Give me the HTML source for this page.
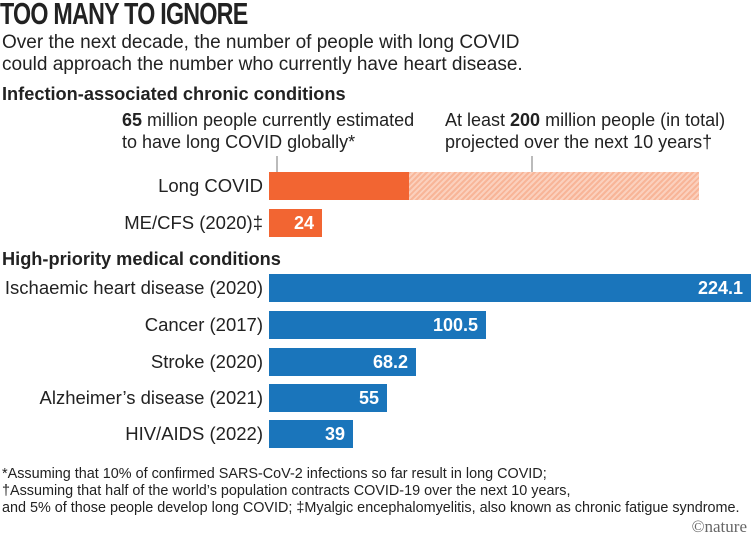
<!DOCTYPE html>
<html><head><meta charset="utf-8"><style>
body{margin:0;width:751px;height:539px;background:#fff;overflow:hidden;position:relative;font-family:"Liberation Sans",sans-serif;color:#222}
.a{position:absolute;white-space:nowrap}
.t{font-family:"Liberation Sans Narrow","Liberation Sans",sans-serif;font-weight:bold;font-size:31px;letter-spacing:-1px;top:-4px;left:0;transform:scaleX(0.75);transform-origin:left}
.sub{font-size:19px;left:2px;line-height:22px}
.h{font-weight:bold;font-size:18.2px;left:2px}
.lab{font-size:18.5px;text-align:right;right:488px}
.bar{position:absolute;left:269px;height:28px}
.o{background:#f26532}
.b{background:#1a75bb}
.v{color:#fff;font-weight:bold;font-size:18px;position:absolute;right:8px;top:4px}
.fn{font-size:14.4px;left:2px;line-height:17px}
</style></head><body>
<div class="a t">TOO MANY TO IGNORE</div>
<div class="a sub" style="top:32px">Over the next decade, the number of people with long COVID<br>could approach the number who currently have heart disease.</div>
<div class="a h" style="top:84px">Infection-associated chronic conditions</div>
<div class="a" style="top:109px;left:122px;font-size:18px;line-height:22px"><b>65</b> million people currently estimated<br>to have long COVID globally*</div>
<div class="a" style="top:109px;left:445px;font-size:18px;line-height:22px">At least <b>200</b> million people (in total)<br>projected over the next 10 years†</div>
<div class="a" style="left:276px;top:156px;width:2px;height:16px;background:#bbb"></div>
<div class="a" style="left:531px;top:156px;width:2px;height:16px;background:#bbb"></div>
<div class="a lab" style="top:175px">Long COVID</div>
<div class="bar o" style="top:172px;width:140px"></div>
<div class="bar" style="top:172px;left:409px;width:290px;background:repeating-linear-gradient(135deg,#f8b598 0 2px,#fbd0bd 2px 4px)"></div>
<div class="a lab" style="top:212px">ME/CFS (2020)‡</div>
<div class="bar o" style="top:209px;width:53px"><span class="v">24</span></div>
<div class="a h" style="top:249px">High-priority medical conditions</div>
<div class="a lab" style="top:277px">Ischaemic heart disease (2020)</div>
<div class="bar b" style="top:274px;width:482px"><span class="v">224.1</span></div>
<div class="a lab" style="top:314px">Cancer (2017)</div>
<div class="bar b" style="top:311px;width:217px"><span class="v">100.5</span></div>
<div class="a lab" style="top:351px">Stroke (2020)</div>
<div class="bar b" style="top:348px;width:147px"><span class="v">68.2</span></div>
<div class="a lab" style="top:387px">Alzheimer’s disease (2021)</div>
<div class="bar b" style="top:384px;width:118px"><span class="v">55</span></div>
<div class="a lab" style="top:423px">HIV/AIDS (2022)</div>
<div class="bar b" style="top:420px;width:84px"><span class="v">39</span></div>
<div class="a fn" style="top:466px">*Assuming that 10% of confirmed SARS-CoV-2 infections so far result in long COVID;<br>†Assuming that half of the world’s population contracts COVID-19 over the next 10 years,<br>and 5% of those people develop long COVID; ‡Myalgic encephalomyelitis, also known as chronic fatigue syndrome.</div>
<div class="a" style="right:4px;top:517px;font-size:17px;color:#666;font-family:'Liberation Serif',serif">©nature</div>
</body></html>
